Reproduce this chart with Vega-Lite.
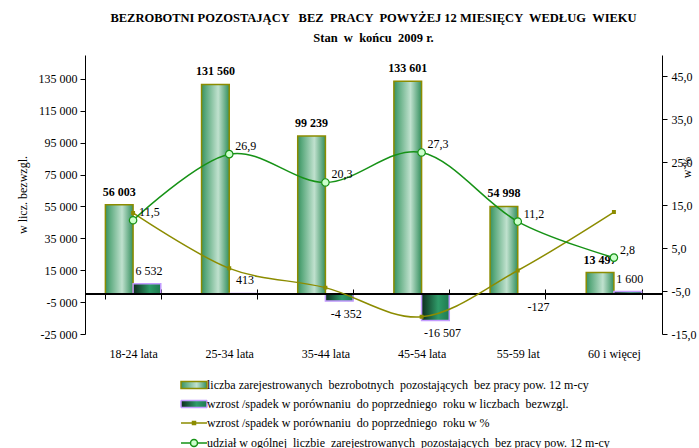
{
  "$schema": "https://vega.github.io/schema/vega-lite/v6.json",
  "width": 577,
  "height": 279,
  "autosize": {"type": "none"},
  "padding": {"left": 85, "top": 55, "right": 37, "bottom": 114},
  "config": {
    "locale": {"number": {"decimal": ",", "thousands": " ", "grouping": [3], "currency": ["", ""], "minus": "-"}},
    "view": {"stroke": null},
    "font": "Liberation Serif",
    "axis": {"labelFont": "Liberation Serif", "labelFontSize": 12, "labelColor": "#000", "titleFont": "Liberation Serif", "titleFontSize": 12, "titleFontWeight": "normal", "titleColor": "#000", "domainColor": "#000", "tickColor": "#000", "grid": false, "labelOverlap": false},
    "legend": {"orient": "none", "title": null, "padding": 0, "labelFont": "Liberation Serif", "labelFontSize": 12, "labelColor": "#000", "labelLimit": 0, "symbolSize": 100, "symbolOpacity": 1, "labelOffset": 7, "legendX": 103}
  },
  "title": {
    "text": "BEZROBOTNI  POZOSTAJĄCY \u00a0 BEZ \u00a0PRACY \u00a0POWYŻEJ 12 MIESIĘCY \u00a0WEDŁUG \u00a0WIEKU",
    "subtitle": "Stan \u00a0w \u00a0końcu \u00a02009 r.",
    "font": "Liberation Serif", "fontSize": 12.5, "fontWeight": "bold", "color": "#000",
    "subtitleFont": "Liberation Serif", "subtitleFontSize": 12.5, "subtitleFontWeight": "bold", "subtitleColor": "#000",
    "anchor": "middle", "offset": 11, "subtitlePadding": 7
  },
  "data": {"values": [
    {"age": "18-24 lata", "series": "A", "value": 56003},
    {"age": "18-24 lata", "series": "B", "value": 6532},
    {"age": "18-24 lata", "series": "C", "value": 13.2},
    {"age": "18-24 lata", "series": "D", "value": 11.5},
    {"age": "25-34 lata", "series": "A", "value": 131560},
    {"age": "25-34 lata", "series": "B", "value": 413},
    {"age": "25-34 lata", "series": "C", "value": 0.3},
    {"age": "25-34 lata", "series": "D", "value": 26.9},
    {"age": "35-44 lata", "series": "A", "value": 99239},
    {"age": "35-44 lata", "series": "B", "value": -4352},
    {"age": "35-44 lata", "series": "C", "value": -4.2},
    {"age": "35-44 lata", "series": "D", "value": 20.3},
    {"age": "45-54 lata", "series": "A", "value": 133601},
    {"age": "45-54 lata", "series": "B", "value": -16507},
    {"age": "45-54 lata", "series": "C", "value": -11.0},
    {"age": "45-54 lata", "series": "D", "value": 27.3},
    {"age": "55-59 lat", "series": "A", "value": 54998},
    {"age": "55-59 lat", "series": "B", "value": -127},
    {"age": "55-59 lat", "series": "C", "value": -0.2},
    {"age": "55-59 lat", "series": "D", "value": 11.2},
    {"age": "60 i więcej", "series": "A", "value": 13497},
    {"age": "60 i więcej", "series": "B", "value": 1600},
    {"age": "60 i więcej", "series": "C", "value": 13.4},
    {"age": "60 i więcej", "series": "D", "value": 2.8}
  ]},
  "layer": [
    {
      "layer": [
        {
          "transform": [{"filter": "datum.series == 'A'"}],
          "mark": {"type": "bar", "strokeWidth": 1.5, "fill": {"gradient": "linear", "x1": 0, "y1": 0, "x2": 1, "y2": 0, "stops": [{"offset": 0, "color": "#3a9060"}, {"offset": 0.15, "color": "#5aa97d"}, {"offset": 0.6, "color": "#c0e1ce"}, {"offset": 1, "color": "#348f5e"}]}},
          "encoding": {
            "x": {"field": "age", "type": "nominal", "title": null, "scale": {"domain": ["18-24 lata", "25-34 lata", "35-44 lata", "45-54 lata", "55-59 lat", "60 i więcej"], "paddingInner": 0.424, "paddingOuter": 0.212},
              "axis": {"title": null, "orient": "bottom", "offset": -45, "domain": false, "tickBand": "extent", "tickSize": 10, "labelPadding": 49, "labelAngle": 0, "labelFontSize": 12}},
            "xOffset": {"field": "series", "scale": {"domain": ["A", "B"], "paddingInner": 0, "paddingOuter": 0}},
            "y": {"field": "value", "type": "quantitative", "title": "w licz. bezwzgl.", "scale": {"domain": [-25000, 150000], "nice": false, "zero": false},
              "axis": {"orient": "left", "title": "w licz. bezwzgl.", "values": [-25000, -5000, 15000, 35000, 55000, 75000, 95000, 115000, 135000], "tickCount": 20, "format": ",d", "tickSize": 5, "labelPadding": 3, "titlePadding": 9}},
            "stroke": {"field": "series", "type": "nominal",
              "scale": {"domain": ["A"], "range": ["#8c8c00"]},
              "legend": {"legendY": 324, "symbolType": "M-2.6,-0.7H2.6V0.7H-2.6Z", "symbolStrokeWidth": 1.5,
                "labelExpr": "'liczba zarejestrowanych \u00a0bezrobotnych \u00a0pozostających \u00a0bez pracy pow. 12 m-cy'"}}
          }
        },
        {
          "transform": [{"filter": "datum.series == 'B'"}],
          "mark": {"type": "bar", "strokeWidth": 1.5, "stroke": "#c39bff", "fill": {"gradient": "linear", "x1": 0, "y1": 0, "x2": 1, "y2": 0, "stops": [{"offset": 0, "color": "#0c2c1c"}, {"offset": 0.6, "color": "#2f9b69"}, {"offset": 1, "color": "#1e7a4f"}]}},
          "encoding": {
            "x": {"field": "age", "type": "nominal", "title": null},
            "xOffset": {"field": "series"},
            "y": {"field": "value", "type": "quantitative", "title": "w licz. bezwzgl."},
            "strokeDash": {"field": "series", "type": "nominal",
              "scale": {"domain": ["B"], "range": [[1, 0]]},
              "legend": {"legendY": 343, "symbolType": "M-2.6,-0.7H2.6V0.7H-2.6Z", "symbolStrokeWidth": 1.5,
                "labelExpr": "'wzrost /spadek w porównaniu \u00a0do poprzedniego \u00a0roku w liczbach \u00a0bezwzgl.'"}}
          }
        },
        {
          "mark": {"type": "rule", "color": "#000", "strokeWidth": 1},
          "encoding": {"y": {"datum": 0, "type": "quantitative"}}
        },
        {
          "transform": [{"filter": "datum.series == 'A'"}],
          "mark": {"type": "text", "font": "Liberation Serif", "fontSize": 12, "fontWeight": "bold", "baseline": "alphabetic", "dy": -9, "color": "#000"},
          "encoding": {
            "x": {"field": "age", "type": "nominal", "title": null},
            "xOffset": {"field": "series"},
            "y": {"field": "value", "type": "quantitative", "title": "w licz. bezwzgl."},
            "text": {"field": "value", "type": "quantitative", "format": ",d"}
          }
        },
        {
          "transform": [{"filter": "datum.series == 'B' && datum.value >= 0"}],
          "mark": {"type": "text", "font": "Liberation Serif", "fontSize": 12, "baseline": "alphabetic", "dy": -9, "dx": 2, "color": "#000"},
          "encoding": {
            "x": {"field": "age", "type": "nominal", "title": null},
            "xOffset": {"field": "series"},
            "y": {"field": "value", "type": "quantitative", "title": "w licz. bezwzgl."},
            "text": {"field": "value", "type": "quantitative", "format": ",d"}
          }
        },
        {
          "transform": [{"filter": "datum.series == 'B' && datum.value < 0"}],
          "mark": {"type": "text", "font": "Liberation Serif", "fontSize": 12, "baseline": "top", "dy": 8, "dx": 7, "color": "#000"},
          "encoding": {
            "x": {"field": "age", "type": "nominal", "title": null},
            "xOffset": {"field": "series"},
            "y": {"field": "value", "type": "quantitative", "title": "w licz. bezwzgl."},
            "text": {"field": "value", "type": "quantitative", "format": ",d"}
          }
        }
      ]
    },
    {
      "layer": [
        {
          "transform": [{"filter": "datum.series == 'C'"}],
          "mark": {"type": "line", "interpolate": "cardinal", "tension": 0, "strokeWidth": 1.5, "stroke": "#8c8c00"},
          "encoding": {
            "x": {"field": "age", "type": "nominal", "title": null},
            "y": {"field": "value", "type": "quantitative", "title": "w %", "scale": {"domain": [-15, 50], "nice": false, "zero": false},
              "axis": {"orient": "right", "title": "w %", "values": [-15, -5, 5, 15, 25, 35, 45], "tickCount": 20, "format": ".1f", "tickSize": 5, "labelPadding": 4, "titleAngle": 270, "titleX": 31, "titleY": 112}}
          }
        },
        {
          "transform": [{"filter": "datum.series == 'D'"}],
          "mark": {"type": "line", "interpolate": "cardinal", "tension": 0, "strokeWidth": 1.5, "stroke": "#169216"},
          "encoding": {
            "x": {"field": "age", "type": "nominal", "title": null},
            "y": {"field": "value", "type": "quantitative", "title": "w %"}
          }
        },
        {
          "transform": [{"filter": "datum.series == 'C'"}],
          "mark": {"type": "square", "size": 6, "stroke": "#8c8c00", "strokeWidth": 1.5, "opacity": 1},
          "encoding": {
            "x": {"field": "age", "type": "nominal", "title": null},
            "y": {"field": "value", "type": "quantitative", "title": "w %"},
            "fill": {"field": "series", "type": "nominal",
              "scale": {"domain": ["C"], "range": ["#8c8c00"]},
              "legend": {"legendY": 362, "symbolType": "M-2.6,0H2.6M-0.3,-0.3H0.3V0.3H-0.3Z", "symbolStrokeWidth": 1.5, "symbolStrokeColor": "#8c8c00",
                "labelExpr": "'wzrost /spadek w porównaniu \u00a0do poprzedniego \u00a0roku w %'"}}
          }
        },
        {
          "transform": [{"filter": "datum.series == 'D'"}],
          "mark": {"type": "circle", "size": 55, "fill": "#ccffcc", "stroke": "#169216", "strokeWidth": 1.2},
          "encoding": {
            "x": {"field": "age", "type": "nominal", "title": null},
            "y": {"field": "value", "type": "quantitative", "title": "w %"},
            "opacity": {"field": "series", "type": "nominal",
              "scale": {"domain": ["D"], "range": [1]},
              "legend": {"legendY": 382, "symbolType": "M-2.6,0H-0.7A0.7,0.7 0 1,1 0.7,0A0.7,0.7 0 1,1 -0.7,0M0.7,0H2.6", "symbolStrokeWidth": 1.5,
                "labelExpr": "'udział w ogólnej \u00a0liczbie \u00a0zarejestrowanych \u00a0pozostających \u00a0bez pracy pow. 12 m-cy'"}}
          }
        },
        {
          "transform": [{"filter": "datum.series == 'D'"}],
          "mark": {"type": "text", "font": "Liberation Serif", "fontSize": 12, "align": "left", "baseline": "middle", "dx": 6, "dy": -8, "color": "#000"},
          "encoding": {
            "x": {"field": "age", "type": "nominal", "title": null},
            "y": {"field": "value", "type": "quantitative", "title": "w %"},
            "text": {"field": "value", "type": "quantitative", "format": ".1f"}
          }
        }
      ]
    }
  ],
  "resolve": {"scale": {"y": "independent"}}
}
